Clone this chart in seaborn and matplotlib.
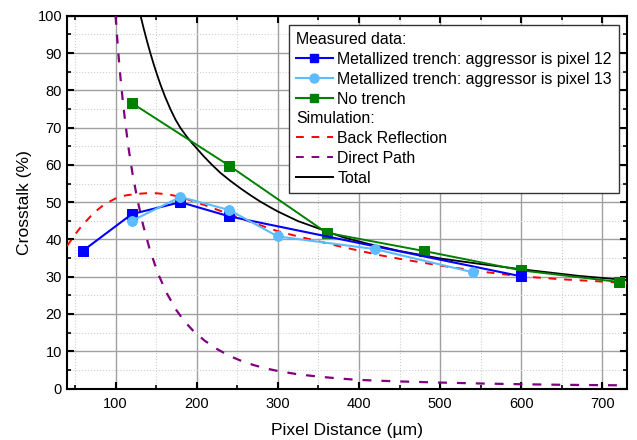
import numpy as np
import pandas as pd
import matplotlib
matplotlib.use("Agg")
import matplotlib.pyplot as plt
from matplotlib.lines import Line2D
from matplotlib.ticker import MultipleLocator
import seaborn as sns

# measured data
px12_x = [60, 120, 180, 240, 600]
px12_y = [37.0, 46.8, 50.0, 46.2, 30.1]

px13_x = [120, 180, 240, 300, 420, 540]
px13_y = [45.0, 51.4, 47.9, 40.8, 37.4, 31.2]

notrench_x = [120, 240, 360, 480, 600, 720]
notrench_y = [76.6, 59.8, 41.8, 36.9, 31.7, 28.6]

# simulation curves
back_x = [40, 50, 57, 65, 70, 78, 85, 92, 100, 112, 125, 138, 150, 165, 180, 195, 210,
          220, 240, 265, 285, 300, 325, 350, 375, 400, 425, 450, 475, 500, 550, 600, 650, 700, 730]
back_y = [38.2, 41.3, 43.3, 45.2, 46.4, 48.0, 49.2, 50.1, 51.0, 51.8, 52.2, 52.4, 52.4, 52.1, 51.4,
          50.3, 49.2, 48.4, 46.8, 44.8, 43.3, 42.2, 40.8, 39.5, 38.2, 37.0, 35.8, 34.8, 33.9, 33.0,
          31.4, 30.1, 29.3, 28.7, 28.3]

direct_x = [100, 103, 106, 109, 112, 116, 121, 127, 134, 142, 152, 163, 175, 185, 196,
            210, 225, 240, 255, 270, 285, 300, 325, 350, 375, 400, 450, 500, 550,
            600, 650, 700, 730]
direct_y = [100, 91.0, 83.5, 77.0, 71.3, 64.5, 57.5, 50.6, 43.8, 37.4, 31.0, 25.6, 21.0, 18.0, 15.4,
            12.8, 10.6, 8.8, 7.4, 6.3, 5.4, 4.7, 3.8, 3.2, 2.7, 2.3, 1.9,
            1.6, 1.35, 1.15, 1.0, 0.9, 0.85]

total_x = [130.8, 135, 139, 143, 147, 151, 155.4, 161, 167.7, 174, 180, 187, 194.4, 201, 208.7,
           218, 229, 241, 254, 266, 278, 290, 300, 325, 356, 380, 410, 450, 500, 550, 600, 672, 730]
total_y = [100, 96.3, 93.0, 89.9, 87.0, 84.3, 81.5, 78.3, 74.9, 72.1, 69.9, 67.8, 65.8, 64.2, 62.3,
           60.2, 57.9, 55.8, 53.7, 51.9, 50.2, 48.7, 47.5, 44.9, 42.5, 40.6, 38.9, 36.9, 34.9,
           33.4, 32.0, 30.2, 29.1]

plt.rcParams["font.family"] = ["Liberation Sans", "DejaVu Sans"]

fig, ax = plt.subplots(figsize=(6.37, 4.40), dpi=100)
fig.subplots_adjust(left=0.105, right=0.984, bottom=0.117, top=0.964)

ax.set_axisbelow(True)
ax.grid(which="major", color="#a0a0a0", linewidth=1.0, linestyle="-")
ax.grid(which="minor", color="#cfcfcf", linewidth=0.8, linestyle=":")

sns.lineplot(x=back_x, y=back_y, ax=ax, color="#ff0000", linewidth=1.4,
             linestyle=(0, (4, 4)), estimator=None, sort=False, zorder=3)
sns.lineplot(x=direct_x, y=direct_y, ax=ax, color="#800080", linewidth=1.6,
             linestyle=(0, (4, 4.5)), estimator=None, sort=False, zorder=3)
sns.lineplot(x=total_x, y=total_y, ax=ax, color="black", linewidth=1.3,
             estimator=None, sort=False, zorder=3)

sns.lineplot(x=notrench_x, y=notrench_y, ax=ax, color="#008000", linewidth=1.4,
             marker="s", markersize=6.5, markeredgecolor="#008000",
             estimator=None, sort=False, zorder=4)
sns.lineplot(x=px12_x, y=px12_y, ax=ax, color="#0000ff", linewidth=1.5,
             marker="s", markersize=6.5, markeredgecolor="#0000ff",
             estimator=None, sort=False, zorder=5)
sns.lineplot(x=px13_x, y=px13_y, ax=ax, color="#5cbcff", linewidth=1.5,
             marker="o", markersize=7, markeredgecolor="#5cbcff",
             estimator=None, sort=False, zorder=6)

ax.set_xlim(40, 730)
ax.set_ylim(0, 100)
ax.xaxis.set_major_locator(MultipleLocator(100))
ax.xaxis.set_minor_locator(MultipleLocator(50))
ax.yaxis.set_major_locator(MultipleLocator(10))
ax.yaxis.set_minor_locator(MultipleLocator(5))
ax.tick_params(which="both", direction="in", top=True, right=True, labelsize=10.5,
               color="black")
ax.tick_params(which="major", length=5, width=1.5)
ax.tick_params(axis="x", which="major", pad=6)
ax.tick_params(which="minor", length=3, width=1.2)
for s in ax.spines.values():
    s.set_linewidth(1.5)
    s.set_color("black")

ax.set_xlabel("Pixel Distance (µm)", fontsize=12.6, labelpad=9)
ax.set_ylabel("Crosstalk (%)", fontsize=12.6, labelpad=4)

blank = Line2D([], [], linestyle="none")
handles = [
    blank,
    Line2D([], [], color="#0000ff", marker="s", markersize=6, linewidth=1.5),
    Line2D([], [], color="#5cbcff", marker="o", markersize=6.5, linewidth=1.5),
    Line2D([], [], color="#008000", marker="s", markersize=6, linewidth=1.5),
    blank,
    Line2D([], [], color="#ff0000", linestyle=(0, (4, 4)), linewidth=1.4),
    Line2D([], [], color="#800080", linestyle=(0, (4, 4)), linewidth=1.4),
    Line2D([], [], color="black", linewidth=1.4),
]
labels = ["Measured data:",
          "Metallized trench: aggressor is pixel 12",
          "Metallized trench: aggressor is pixel 13",
          "No trench",
          "Simulation:",
          "Back Reflection",
          "Direct Path",
          "Total"]
leg = ax.legend(handles, labels, loc="upper right", bbox_to_anchor=(0.9863, 0.975),
                fontsize=11.4, frameon=True, fancybox=False, framealpha=1,
                edgecolor="#333333", handlelength=2.3, handletextpad=0.3,
                labelspacing=0.3, borderpad=0.45, borderaxespad=0)
leg.get_frame().set_linewidth(1.0)

# pull the two header rows flush left
headers = {"Measured data:", "Simulation:"}
for vpack in leg._legend_handle_box.get_children():
    for hpack in vpack.get_children():
        da, ta = hpack.get_children()
        if ta.get_text() in headers:
            da.set_width(0)
            hpack.sep = 0

fig.savefig("out.png", dpi=100)
